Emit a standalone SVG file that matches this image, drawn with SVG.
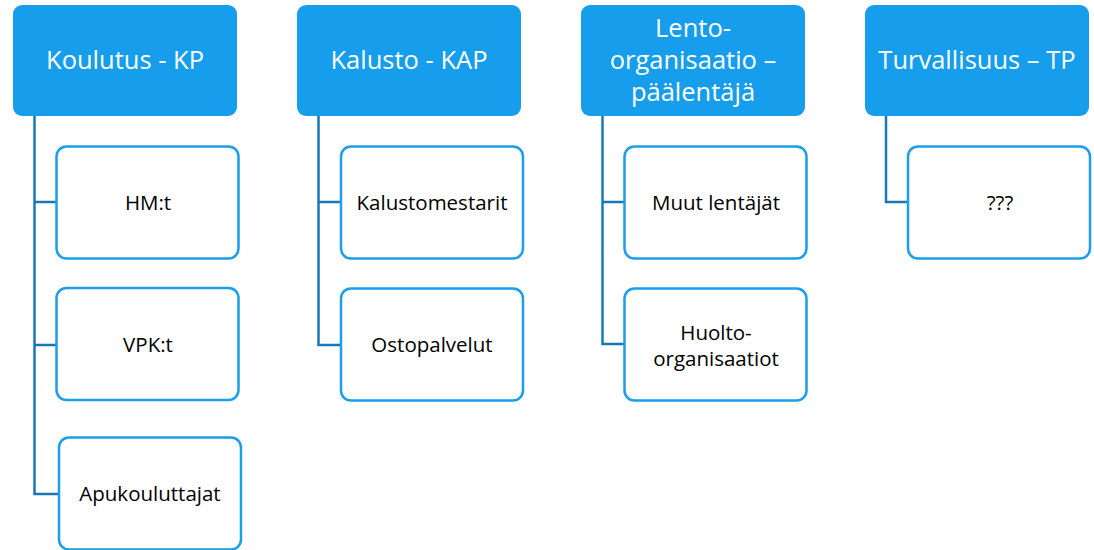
<svg xmlns="http://www.w3.org/2000/svg" width="1094" height="550" viewBox="0 0 1094 550">
<style>
.hdr{fill:#169DEB;}
.hdr-t{fill:#FFFFFF;font-family:"Open Sans","Noto Sans",sans-serif;font-size:25.5px;text-anchor:middle;}
.child{fill:#FFFFFF;stroke:#1A9FE8;stroke-width:2.5;}
.child-t{fill:#000000;font-family:"Open Sans","Noto Sans",sans-serif;font-size:20.5px;text-anchor:middle;}
.conn{fill:none;stroke:#1878B6;stroke-width:2.5;}
</style>
<rect width="1094" height="550" fill="#FFFFFF"/>
<g id="connectors">
<path class="conn" d="M34.5 116 V494 H58 M34.5 202 H56 M34.5 345 H56"/>
<path class="conn" d="M318.5 116 V345 H341 M318.5 202 H341"/>
<path class="conn" d="M602.5 116 V344 H624 M602.5 202 H624"/>
<path class="conn" d="M886 116 V202 H908"/>
</g>
<g id="h1"><rect class="hdr" x="13" y="5" width="224" height="111" rx="9"/><text class="hdr-t" x="125" y="69">Koulutus - KP</text></g>
<g id="h2"><rect class="hdr" x="297" y="5" width="224" height="111" rx="9"/><text class="hdr-t" x="409" y="69">Kalusto - KAP</text></g>
<g id="h3"><rect class="hdr" x="581" y="5" width="224" height="111" rx="9"/><text class="hdr-t" x="693" y="37">Lento-</text><text class="hdr-t" x="693" y="69">organisaatio –</text><text class="hdr-t" x="693" y="101">päälentäjä</text></g>
<g id="h4"><rect class="hdr" x="865" y="5" width="224" height="111" rx="9"/><text class="hdr-t" x="977" y="69">Turvallisuus – TP</text></g>
<g id="c1a"><rect class="child" x="56.5" y="146.5" width="182" height="112" rx="10"/><text class="child-t" x="148" y="210">HM:t</text></g>
<g id="c1b"><rect class="child" x="56.5" y="288" width="182" height="112" rx="10"/><text class="child-t" x="148" y="352">VPK:t</text></g>
<g id="c1c"><rect class="child" x="59" y="437.5" width="182" height="112" rx="10"/><text class="child-t" x="150" y="501">Apukouluttajat</text></g>
<g id="c2a"><rect class="child" x="341" y="146.5" width="182" height="112" rx="10"/><text class="child-t" x="432" y="210">Kalustomestarit</text></g>
<g id="c2b"><rect class="child" x="341" y="288.5" width="182" height="112" rx="10"/><text class="child-t" x="432" y="352">Ostopalvelut</text></g>
<g id="c3a"><rect class="child" x="624.5" y="146.5" width="182" height="112" rx="10"/><text class="child-t" x="716" y="210">Muut lentäjät</text></g>
<g id="c3b"><rect class="child" x="624.5" y="288.5" width="182" height="112" rx="10"/><text class="child-t" x="716" y="340">Huolto-</text><text class="child-t" x="716" y="366">organisaatiot</text></g>
<g id="c4a"><rect class="child" x="908" y="146.5" width="182" height="112" rx="10"/><text class="child-t" x="1000" y="210">???</text></g>
</svg>
